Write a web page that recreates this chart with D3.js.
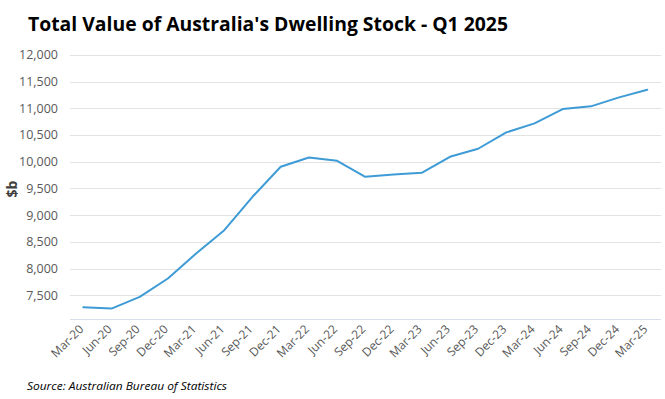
<!DOCTYPE html>
<html><head><meta charset="utf-8">
<script src="https://cdn.jsdelivr.net/npm/d3@7"></script>
<style>body{margin:0;background:#fff}svg{display:block}</style>
</head><body>
<script>
const categories = ["Mar-20","Jun-20","Sep-20","Dec-20","Mar-21","Jun-21","Sep-21","Dec-21","Mar-22","Jun-22","Sep-22","Dec-22","Mar-23","Jun-23","Sep-23","Dec-23","Mar-24","Jun-24","Sep-24","Dec-24","Mar-25"];
const values = [7275,7250,7469,7813,8282,8719,9344,9906,10081,10019,9719,9763,9794,10094,10244,10550,10719,10988,11038,11206,11350];
const yTicks = [7500,8000,8500,9000,9500,10000,10500,11000,11500,12000];
const title = "Total Value of Australia's Dwelling Stock - Q1 2025";
const yLabel = "$b";
const source = "Source: Australian Bureau of Statistics";

const W = 665, H = 399;
const svg = d3.select("body").append("svg").attr("width", W).attr("height", H);

const x = d3.scaleBand().domain(categories).range([69.2, 661.4]);
const y = d3.scaleLinear().domain([7055, 12000]).range([319, 55]);

// gridlines
svg.append("g").selectAll("line").data(yTicks).join("line")
  .attr("x1", 70).attr("x2", 661)
  .attr("y1", d => Math.round(y(d)) + 0.5).attr("y2", d => Math.round(y(d)) + 0.5)
  .attr("stroke", "#e3e3e3").attr("stroke-width", 1);

// bottom axis line
svg.append("line").attr("x1", 70).attr("x2", 661).attr("y1", 319.5).attr("y2", 319.5)
  .attr("stroke", "#d9dfec").attr("stroke-width", 1);

// y tick labels
const fmt = d3.format(",");
svg.append("g").selectAll("text").data(yTicks).join("text")
  .attr("x", 58).attr("y", d => y(d)).attr("dy", "0.35em")
  .attr("text-anchor", "end")
  .attr("font-family", "'Open Sans', sans-serif").attr("font-size", 12.5)
  .attr("fill", "#595959").text(d => fmt(d));

// x tick labels
svg.append("g").selectAll("text").data(categories).join("text")
  .attr("transform", d => `translate(${x(d) + x.bandwidth()/2 + 1},${330}) rotate(-45)`)
  .attr("text-anchor", "end")
  .attr("font-family", "'Open Sans', sans-serif").attr("font-size", 12)
  .attr("fill", "#595959").text(d => d);

// line
const line = d3.line().x((d, i) => x(categories[i]) + x.bandwidth()/2).y(d => y(d));
svg.append("path").datum(values).attr("d", line)
  .attr("fill", "none").attr("stroke", "#3e9bd5").attr("stroke-width", 2)
  .attr("stroke-linejoin", "round").attr("stroke-linecap", "round");

// y label
svg.append("text").attr("transform", "translate(17,189) rotate(-90)")
  .attr("text-anchor", "middle")
  .attr("font-family", "'Open Sans', sans-serif").attr("font-size", 14).attr("font-weight", "bold")
  .attr("fill", "#404040").text(yLabel);

// title
svg.append("text").attr("x", 28).attr("y", 31)
  .attr("font-family", "'Open Sans', sans-serif").attr("font-size", 20).attr("font-weight", "bold")
  .attr("fill", "#000").attr("textLength", 480).attr("lengthAdjust", "spacingAndGlyphs").text(title);

// source
svg.append("text").attr("x", 27).attr("y", 390)
  .attr("font-family", "'Open Sans', sans-serif").attr("font-size", 11.5).attr("font-style", "italic")
  .attr("fill", "#000").attr("textLength", 200).attr("lengthAdjust", "spacingAndGlyphs").text(source);
</script>
</body></html>
